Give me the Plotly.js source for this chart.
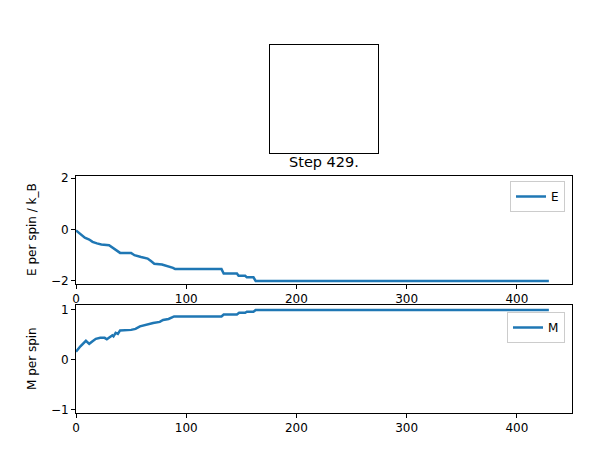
<!DOCTYPE html>
<html>
<head>
<meta charset="utf-8">
<script src="https://cdn.plot.ly/plotly-3.0.1.min.js"></script>
<style>html,body{margin:0;padding:0;background:#fff;}#plot{width:611px;height:467px;}</style>
</head>
<body>
<div id="plot"></div>
<script>
// Energy per spin: step breakpoints and values
const eSteps = [0, 4, 8, 12, 15, 19, 23, 30, 33, 36, 40, 50, 53, 59, 65, 68, 71, 78, 83, 88, 90, 132, 134, 146, 147.5, 153.5, 155, 161, 163, 429];
const eValues = [-0.04, -0.19, -0.32, -0.39, -0.48, -0.54, -0.58, -0.61, -0.69, -0.78, -0.91, -0.91, -1.0, -1.07, -1.13, -1.23, -1.33, -1.36, -1.42, -1.49, -1.54, -1.54, -1.71, -1.71, -1.80, -1.80, -1.86, -1.86, -2.0, -2.0];
// Magnetisation per spin
const mSteps = [0, 4, 9, 12, 15, 18, 22, 26, 28, 31, 33, 34, 36, 38, 40, 50, 54, 58, 61, 66, 70, 76, 79, 84, 89, 132, 134, 146, 148, 153.5, 155, 161, 163, 429];
const mValues = [0.16, 0.27, 0.38, 0.32, 0.37, 0.42, 0.44, 0.44, 0.41, 0.47, 0.49, 0.47, 0.54, 0.52, 0.59, 0.60, 0.62, 0.67, 0.69, 0.72, 0.74, 0.76, 0.80, 0.82, 0.87, 0.87, 0.91, 0.91, 0.945, 0.945, 0.965, 0.965, 1.0, 1.0];
// Spin lattice at the final step (all spins up -> white)
const lattice = [[1, 1], [1, 1]];
const xTicks = [0, 100, 200, 300, 400];
const eTicks = [-2, 0, 2];
const mTicks = [-1, 0, 1];
const titleText = "Step 429.";
const eLabel = "E per spin / k_B";
const mLabel = "M per spin";

const W = 611, H = 467;
const px = v => v / W;
const py = v => 1 - v / H;
const blue = '#1f77b4';
const font = {family: 'DejaVu Sans', size: 12, color: '#000'};

const axBase = {
  showline: true, mirror: true, linecolor: '#000', linewidth: 1,
  ticks: 'outside', ticklen: 4, tickcolor: '#000', tickwidth: 1,
  showgrid: false, zeroline: false, tickfont: font, fixedrange: true
};

const traces = [
  {x: eSteps, y: eValues, xaxis: 'x', yaxis: 'y', mode: 'lines', name: 'E',
   line: {color: blue, width: 2.5}, legend: 'legend'},
  {x: mSteps, y: mValues, xaxis: 'x2', yaxis: 'y2', mode: 'lines', name: 'M',
   line: {color: blue, width: 2.5}, legend: 'legend2'},
  {z: lattice, type: 'heatmap', xaxis: 'x3', yaxis: 'y3', showscale: false, showlegend: false,
   zmin: -1, zmax: 1, colorscale: [[0, '#000000'], [1, '#ffffff']], hoverinfo: 'skip'}
];

const legendBase = {
  bgcolor: 'rgba(255,255,255,0.8)', bordercolor: '#cccccc', borderwidth: 1,
  font: {family: 'DejaVu Sans', size: 12, color: '#000'},
  xanchor: 'right', yanchor: 'top', itemwidth: 30, tracegroupgap: 0
};

const layout = {
  width: W, height: H,
  margin: {l: 0, r: 0, t: 0, b: 0},
  paper_bgcolor: '#fff', plot_bgcolor: '#fff',
  showlegend: true,
  legend: Object.assign({}, legendBase, {x: px(565), y: py(181)}),
  legend2: Object.assign({}, legendBase, {x: px(565), y: py(312)}),
  xaxis: Object.assign({}, axBase, {domain: [px(76), px(572)], range: [0, 450], tickvals: xTicks, anchor: 'y'}),
  yaxis: Object.assign({}, axBase, {domain: [py(284), py(176)], range: [-2.12, 2.08], tickvals: eTicks, anchor: 'x'}),
  xaxis2: Object.assign({}, axBase, {domain: [px(76), px(572)], range: [0, 450], tickvals: xTicks, anchor: 'y2'}),
  yaxis2: Object.assign({}, axBase, {domain: [py(413), py(305)], range: [-1.07, 1.1], tickvals: mTicks, anchor: 'x2'}),
  xaxis3: {domain: [px(270), px(378)], range: [-0.5, 1.5], showline: true, mirror: true, linecolor: '#000', linewidth: 1,
           showticklabels: false, ticks: '', showgrid: false, zeroline: false, anchor: 'y3', fixedrange: true},
  yaxis3: {domain: [py(153), py(45)], range: [-0.5, 1.5], showline: true, mirror: true, linecolor: '#000', linewidth: 1,
           showticklabels: false, ticks: '', showgrid: false, zeroline: false, anchor: 'x3', fixedrange: true},
  annotations: [
    {text: titleText, xref: 'paper', yref: 'paper', x: px(324), y: py(162), xanchor: 'center', yanchor: 'middle',
     showarrow: false, font: {family: 'DejaVu Sans', size: 14.5, color: '#000'}},
    {text: eLabel, xref: 'paper', yref: 'paper', x: px(32), y: py(230), xanchor: 'center', yanchor: 'middle',
     textangle: -90, showarrow: false, font: font},
    {text: mLabel, xref: 'paper', yref: 'paper', x: px(32), y: py(359), xanchor: 'center', yanchor: 'middle',
     textangle: -90, showarrow: false, font: font}
  ]
};

Plotly.newPlot('plot', traces, layout, {staticPlot: true, displayModeBar: false});
</script>
</body>
</html>
